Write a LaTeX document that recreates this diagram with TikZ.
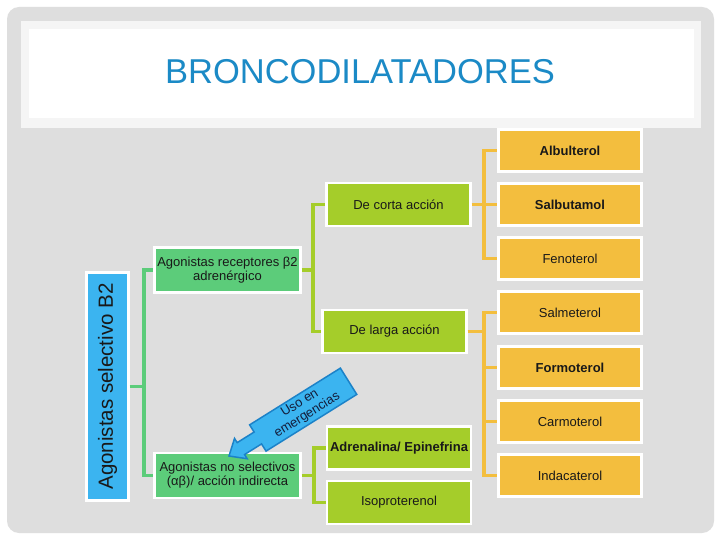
\documentclass[tikz,border=0pt]{standalone}
\usepackage{fontspec}
\setmainfont{Liberation Sans}
\definecolor{bgray}{RGB}{222,222,222}
\definecolor{offw}{RGB}{245,245,245}
\definecolor{titleblue}{RGB}{27,138,198}
\definecolor{skyb}{RGB}{59,180,240}
\definecolor{arrowedge}{RGB}{28,130,200}
\definecolor{midgreen}{RGB}{92,204,122}
\definecolor{lime}{RGB}{165,205,42}
\definecolor{orng}{RGB}{243,190,62}
\definecolor{txtnavy}{RGB}{20,30,60}
\begin{document}
\begin{tikzpicture}[x=1pt,y=-1pt,
  box/.style={draw=white, line width=2.5pt, inner sep=0pt, align=center,
    font=\fontsize{13}{14}\selectfont, text=black!90},
  lvlone/.style={box, fill=midgreen, minimum width=146, minimum height=45},
  lvltwo/.style={box, fill=lime, minimum width=144, minimum height=43},
  lvlthree/.style={box, fill=orng, minimum width=143, minimum height=42},
  conone/.style={draw=midgreen, line width=3.5pt},
  contwo/.style={draw=lime, line width=3.5pt},
  conthree/.style={draw=orng, line width=3.5pt}]
\useasboundingbox (0,0) rectangle (720,540);
\fill[white] (0,0) rectangle (720,540);
\fill[bgray, rounded corners=12pt] (7,7) rectangle (714,533);
\fill[offw] (21,21) rectangle (701,128);
\fill[white] (29,29) rectangle (694,118);
\node[text=titleblue, inner sep=0pt, font=\fontsize{34.5}{40}\selectfont] (title) at (360,72) {BRONCODILATADORES};

% vertical blue box
\node[box, fill=skyb, rotate=90, minimum width=228, minimum height=42,
  font=\fontsize{20.5}{24}\selectfont] (vb) at (107.5,386.5) {Agonistas selectivo B2};

% level one
\node[lvlone] (ar) at (227.5,270) {Agonistas receptores β2\\adrenérgico};
\node[lvlone] (ans) at (227.5,475.5) {Agonistas no selectivos\\(αβ)/ acción indirecta};

% level two
\node[lvltwo] (dc) at (398.5,204.5) {De corta acción};
\node[lvltwo] (dl) at (394.5,331.5) {De larga acción};
\node[lvltwo, font=\fontsize{13}{14}\selectfont\bfseries] (ad) at (399,448) {Adrenalina/ Epinefrina};
\node[lvltwo] (iso) at (399,502.5) {Isoproterenol};

% level three
\node[lvlthree, font=\fontsize{13}{14}\selectfont\bfseries] (o1) at (570,150.5) {Albulterol};
\node[lvlthree, font=\fontsize{13}{14}\selectfont\bfseries] (o2) at (570,204.5) {Salbutamol};
\node[lvlthree] (o3) at (570,258.5) {Fenoterol};
\node[lvlthree] (o4) at (570,312.5) {Salmeterol};
\node[lvlthree, font=\fontsize{13}{14}\selectfont\bfseries] (o5) at (570,367.5) {Formoterol};
\node[lvlthree] (o6) at (570,421.5) {Carmoterol};
\node[lvlthree] (o7) at (570,475.5) {Indacaterol};

% connectors
\begin{scope}[on background layer/.style={}]
\end{scope}
\draw[conone] (vb.south) -- ++(14,0) |- (ar.west);
\draw[conone] (vb.south) -- ++(14,0) |- (ans.west);
\draw[contwo] (ar.east) -- ++(11,0) |- (dc.west);
\draw[contwo] (ar.east) -- ++(11,0) |- (dl.west);
\draw[contwo] (ans.east) -- ++(12,0) |- (ad.west);
\draw[contwo] (ans.east) -- ++(12,0) |- (iso.west);
\draw[conthree] (dc.east) -- ++(12,0) |- (o1.west);
\draw[conthree] (dc.east) -- ++(12,0) |- (o2.west);
\draw[conthree] (dc.east) -- ++(12,0) |- (o3.west);
\draw[conthree] (dl.east) -- ++(16,0) |- (o4.west);
\draw[conthree] (dl.east) -- ++(16,0) |- (o5.west);
\draw[conthree] (dl.east) -- ++(16,0) |- (o6.west);
\draw[conthree] (dl.east) -- ++(16,0) |- (o7.west);

% block arrow
\begin{scope}[shift={(229,456)}, rotate=32]
\draw[fill=skyb, draw=arrowedge, line width=1.5pt, line join=miter]
  (0pt,0pt) -- (14pt,12pt) -- (14pt,7pt) -- (34pt,7pt) -- (34pt,15.5pt)
  -- (141pt,15.5pt) -- (141pt,-15.5pt) -- (34pt,-15.5pt) -- (34pt,-7pt)
  -- (14pt,-7pt) -- (14pt,-12pt) -- cycle;
\node[transform shape, align=center, inner sep=0pt, text=txtnavy,
  font=\fontsize{13}{14}\selectfont] (uso) at (88pt,0pt) {Uso en\\emergencias};
\end{scope}
\end{tikzpicture}
\end{document}
